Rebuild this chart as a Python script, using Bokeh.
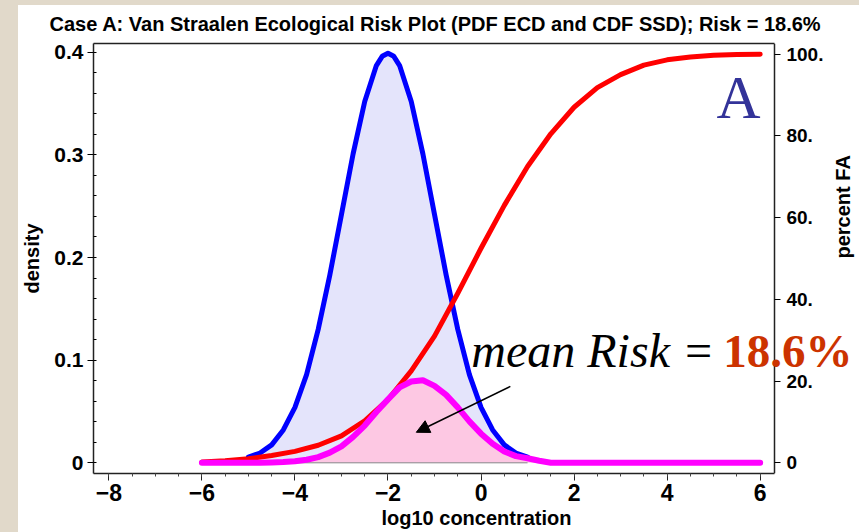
import math
from bokeh.plotting import figure
from bokeh.layouts import row, column
from bokeh.models import Range1d, LinearAxis, FixedTicker, Label, Arrow, NormalHead, Div
from bokeh.embed import file_html
from bokeh.resources import INLINE

# ---------------- data ----------------
ecd_x = [-5.0, -4.75, -4.5, -4.25, -4.0, -3.75, -3.5, -3.25, -3.0, -2.75, -2.5, -2.25, -2.125, -2.0,
         -1.875, -1.75, -1.5, -1.25, -1.0, -0.75, -0.5, -0.25, 0.0, 0.25, 0.5, 0.75, 1.0]
ecd_pdf = [0.0055, 0.0095, 0.0175, 0.032, 0.054, 0.086, 0.130, 0.183, 0.242, 0.301, 0.352, 0.387, 0.396, 0.399,
           0.396, 0.387, 0.352, 0.301, 0.242, 0.183, 0.130, 0.086, 0.054, 0.032, 0.0175, 0.0095, 0.0055]

ssd_x = [-6.0, -5.5, -5.0, -4.5, -4.0, -3.5, -3.0, -2.5, -2.0, -1.5, -1.0, -0.5, 0.0,
         0.5, 1.0, 1.5, 2.0, 2.5, 3.0, 3.5, 4.0, 4.5, 5.0, 5.5, 6.0]
ssd_pct = [0.2, 0.5, 1.0, 1.8, 2.8, 4.3, 6.6, 10.3, 15.5, 22.5, 31.0, 41.5, 52.5,
           63.0, 72.5, 80.5, 87.0, 91.8, 95.0, 97.3, 98.6, 99.3, 99.7, 99.9, 100.0]

risk_x = [-6.0, -5.5, -5.0, -4.75, -4.5, -4.25, -4.0, -3.75, -3.5, -3.25, -3.0, -2.75, -2.5, -2.25,
          -2.0, -1.75, -1.5, -1.25, -1.0, -0.75, -0.5, -0.25, 0.0, 0.25, 0.5, 0.75, 1.0, 1.25,
          1.5, 2.0, 3.0, 4.0, 5.0, 6.0]
risk_pdf = [0.0, 0.0, 0.0, 0.0001, 0.0003, 0.0007, 0.0015, 0.003, 0.0056, 0.0099, 0.016, 0.0253, 0.0363, 0.0495,
            0.0618, 0.0735, 0.0792, 0.0804, 0.075, 0.0662, 0.054, 0.0404, 0.0284, 0.0185, 0.011, 0.0065, 0.0045, 0.002,
            0.0, 0.0, 0.0, 0.0, 0.0, 0.0]

x_ticks = [-8, -6, -4, -2, 0, 2, 4, 6]
x_tick_labels = ["\u22128", "\u22126", "\u22124", "\u22122", "0", "2", "4", "6"]
y_ticks = [0, 0.1, 0.2, 0.3, 0.4]
y_tick_labels = ["0", "0.1", "0.2", "0.3", "0.4"]
pct_ticks = [0, 20, 40, 60, 80, 100]
pct_tick_labels = ["0", "20.", "40.", "60.", "80.", "100."]

title_text = "Case A: Van Straalen Ecological  Risk Plot (PDF ECD and CDF SSD); Risk = 18.6%"
mean_risk_text = "mean Risk = "
risk_value_text = "18.6%"

# ---------------- figure ----------------
SANS = "'Liberation Sans', Arial, sans-serif"
SERIF = "'Liberation Serif', 'Times New Roman', serif"
BEIGE = "#e1d9ca"

X0 = -8.33          # left edge of the frame
XR = 6.307          # where the right (percent) axis sits
X1 = 8.135          # frame is extended to the page edge so the big text is not clipped
Y0, Y1 = -0.0104, 0.4085
STRIP_L, STRIP_T = 18, 5

p = figure(width=859 - STRIP_L, height=532 - STRIP_T,
           x_range=Range1d(X0, X1), y_range=Range1d(Y0, Y1),
           output_backend="svg", toolbar_location=None,
           min_border_left=93 - STRIP_L, min_border_right=0,
           min_border_top=42 - STRIP_T, min_border_bottom=59)
p.title.text = title_text
p.title.text_font = SANS
p.title.text_font_style = "bold"
p.title.text_font_size = "20px"
p.title.text_color = "black"
p.title.align = "left"
p.title.offset = -44
p.title.standoff = 14
p.title.vertical_align = "top"
p.background_fill_color = "white"
p.border_fill_color = "white"
p.outline_line_color = None
p.xgrid.visible = False
p.ygrid.visible = False

p.extra_y_ranges = {"pct": Range1d(-2.61, 102.6)}

# x axis
xa = p.xaxis[0]
xa.bounds = (X0, XR)
xa.ticker = FixedTicker(ticks=x_ticks, minor_ticks=[v / 2 for v in range(-16, 13)])
xa.major_label_overrides = {t: l for t, l in zip(x_ticks, x_tick_labels)}
xa.major_label_text_font = SANS
xa.major_label_text_font_style = "bold"
xa.major_label_text_font_size = "23px"
xa.major_label_text_color = "black"
xa.major_tick_out = 7
xa.major_tick_in = 0
xa.minor_tick_out = 3
xa.minor_tick_in = 0
xa.major_label_standoff = 3
xa.axis_line_width = 1.5
xa.axis_line_color = "#222222"
xa.major_tick_line_color = "#222222"
xa.minor_tick_line_color = "#444444"
xa.axis_label = "log10 concentration"
xa.axis_label_text_font = SANS
xa.axis_label_text_font_style = "bold"
xa.axis_label_text_font_size = "20px"
xa.axis_label_text_color = "black"
xa.axis_label_standoff = 3

# top frame line (stops at the right axis)
ta = LinearAxis(ticker=FixedTicker(ticks=[]), bounds=(X0, XR))
ta.major_tick_out = 0
ta.major_tick_in = 0
ta.minor_tick_out = 0
ta.minor_tick_in = 0
ta.axis_line_width = 1.5
ta.axis_line_color = "#222222"
p.add_layout(ta, "above")

# left axis
ya = p.yaxis[0]
ya.ticker = FixedTicker(ticks=y_ticks, minor_ticks=[i * 0.02 for i in range(0, 21)])
ya.major_label_overrides = {t: l for t, l in zip(y_ticks, y_tick_labels)}
ya.major_label_text_font = SANS
ya.major_label_text_font_style = "bold"
ya.major_label_text_font_size = "21px"
ya.major_label_text_color = "black"
ya.major_tick_out = 6
ya.major_tick_in = 0
ya.minor_tick_in = 3
ya.minor_tick_out = 0
ya.major_label_standoff = 4
ya.axis_line_width = 1.5
ya.axis_line_color = "#222222"
ya.axis_label = "density"
ya.axis_label_text_font = SANS
ya.axis_label_text_font_style = "bold"
ya.axis_label_text_font_size = "20px"
ya.axis_label_text_color = "black"
ya.axis_label_standoff = 8

# right axis (percent FA), fixed at the right end of the data area
ra = LinearAxis(y_range_name="pct", ticker=FixedTicker(ticks=pct_ticks), fixed_location=XR)
ra.major_label_overrides = {t: l for t, l in zip(pct_ticks, pct_tick_labels)}
ra.major_label_text_font = SANS
ra.major_label_text_font_style = "bold"
ra.major_label_text_font_size = "19px"
ra.major_label_text_color = "black"
ra.major_tick_out = 6
ra.major_tick_in = 0
ra.minor_tick_line_color = None
ra.major_label_standoff = 6
ra.axis_line_width = 1.5
ra.axis_line_color = "#222222"
ra.axis_label = "percent FA"
ra.axis_label_text_font = SANS
ra.axis_label_text_font_style = "bold"
ra.axis_label_text_font_size = "20px"
ra.axis_label_text_color = "black"
ra.axis_label_standoff = 17
ra.axis_label_orientation = math.pi / 2
p.add_layout(ra, "right")

# ---------------- glyphs ----------------
p.varea(x=ecd_x, y1=[0] * len(ecd_x), y2=ecd_pdf, fill_color="#e4e4fb")
p.varea(x=risk_x, y1=[0] * len(risk_x), y2=risk_pdf, fill_color="#fdc8e3")
p.line(x=[ecd_x[0], ecd_x[-1]], y=[0, 0], line_color="#888888", line_width=1)

p.line(ecd_x, ecd_pdf, line_color="#0000ff", line_width=5, line_join="round", line_cap="round")
p.line(ssd_x, ssd_pct, y_range_name="pct", line_color="#ff0000", line_width=5,
       line_join="round", line_cap="round")
p.line(risk_x, risk_pdf, line_color="#ff00ff", line_width=6, line_join="round", line_cap="round")

# ---------------- annotations ----------------
def px_x(px):
    return (px - 480.7) / 46.5

def px_y(py):
    return (462.3 - py) / 1028.9

p.add_layout(Label(x=px_x(716), y=px_y(96), text="A", text_align="left",
                   text_baseline="alphabetic", text_font=SERIF, text_font_size="61px",
                   text_color="#333399"))
p.add_layout(Label(x=px_x(471.0), y=px_y(350), text=mean_risk_text, text_align="left",
                   text_baseline="alphabetic", text_font=SERIF, text_font_style="italic",
                   text_font_size="48px", text_color="black"))
p.add_layout(Label(x=px_x(722.7), y=px_y(350), text=risk_value_text, text_align="left",
                   text_baseline="alphabetic", text_font=SERIF, text_font_style="bold",
                   text_font_size="47px", text_color="#cc3300"))

p.add_layout(Arrow(end=NormalHead(size=13, fill_color="black", line_color="black"),
                   x_start=px_x(510), y_start=px_y(385.7), x_end=px_x(416), y_end=px_y(431.7),
                   line_color="black", line_width=1.5))

top_strip = Div(text="", width=859, height=STRIP_T,
                styles={"background-color": BEIGE, "margin": "0", "padding": "0"})
left_strip = Div(text="", width=STRIP_L, height=532 - STRIP_T,
                 styles={"background-color": BEIGE, "margin": "0", "padding": "0"})
layout = column(top_strip, row(left_strip, p, spacing=0), spacing=0)

open("out.html", "w").write(file_html(layout, INLINE))
